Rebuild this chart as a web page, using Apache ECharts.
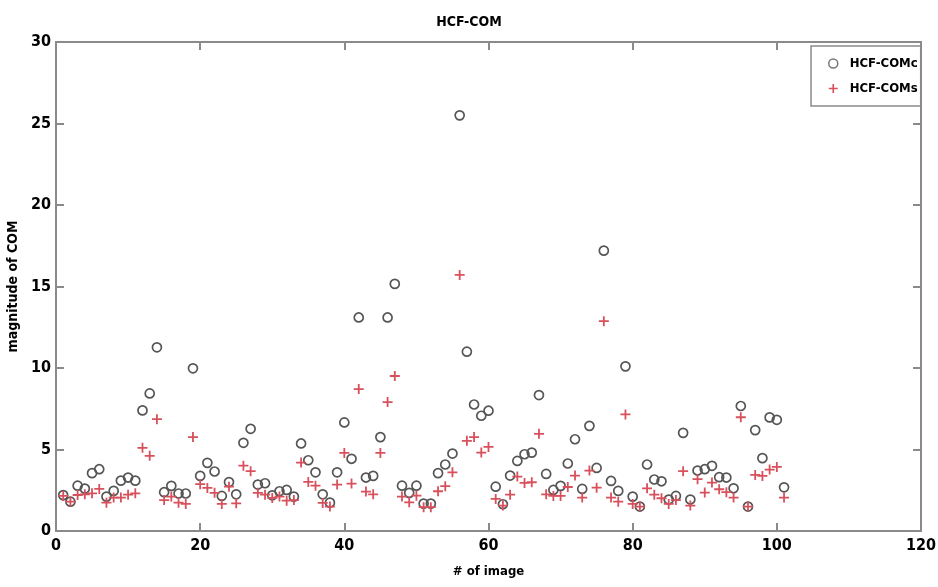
<!DOCTYPE html>
<html>
<head>
<meta charset="utf-8">
<script src="https://cdn.jsdelivr.net/npm/echarts@6/dist/echarts.min.js"></script>
<style>html,body{margin:0;padding:0;background:#fff;}#c{width:938px;height:587px;}</style>
</head>
<body>
<div id="c"></div>
<script>
const imageIndex = [];
for (let i = 1; i <= 101; i++) imageIndex.push(i);
const hcfComC = [2.2,1.8,2.78,2.6,3.55,3.79,2.11,2.46,3.09,3.28,3.09,7.4,8.44,11.27,2.38,2.77,2.3,2.3,9.98,3.38,
  4.18,3.65,2.15,3.0,2.25,5.41,6.27,2.85,2.93,2.19,2.44,2.52,2.11,5.37,4.34,3.6,2.25,1.74,3.6,6.66,
  4.43,13.1,3.28,3.38,5.76,13.1,15.16,2.78,2.34,2.78,1.68,1.68,3.55,4.08,4.75,25.5,11.0,7.76,7.07,7.38,
  2.72,1.64,3.4,4.3,4.71,4.81,8.34,3.5,2.52,2.77,4.14,5.63,2.58,6.45,3.87,17.2,3.07,2.46,10.1,2.11,
  1.5,4.08,3.16,3.05,1.93,2.15,6.02,1.93,3.71,3.79,4.0,3.3,3.28,2.62,7.67,1.5,6.19,4.47,6.97,6.82,2.68];
const hcfComS = [2.15,1.8,2.21,2.25,2.31,2.58,1.74,2.05,2.05,2.23,2.31,5.1,4.61,6.86,1.9,2.11,1.74,1.66,5.76,2.87,
  2.64,2.34,1.66,2.72,1.7,4.01,3.67,2.34,2.23,2.03,2.11,1.86,1.9,4.2,3.01,2.78,1.72,1.5,2.85,4.79,
  2.91,8.71,2.42,2.25,4.79,7.91,9.51,2.11,1.76,2.17,1.46,1.46,2.44,2.75,3.6,15.71,5.53,5.76,4.81,5.16,
  1.97,1.56,2.23,3.34,2.95,2.99,5.96,2.25,2.15,2.15,2.7,3.4,2.05,3.71,2.66,12.87,2.05,1.8,7.15,1.66,
  1.5,2.62,2.23,2.01,1.66,1.9,3.67,1.56,3.18,2.36,2.97,2.56,2.38,2.05,6.98,1.5,3.44,3.38,3.77,3.93,2.05];
const xTicks = [0,20,40,60,80,100,120];
const yTicks = [0,5,10,15,20,25,30];

const FONT = "'DejaVu Sans Condensed','Liberation Sans Narrow',sans-serif";
const AX = '#8a8a8a';
const plusPath = 'path://M4.1,0H5.9V4.1H10V5.9H5.9V10H4.1V5.9H0V4.1H4.1Z';

const chart = echarts.init(document.getElementById('c'), null, {renderer:'canvas'});
const baseX = {
  type:'value', min:xTicks[0], max:xTicks[xTicks.length-1], interval:20,
  axisLine:{show:true, onZero:false, lineStyle:{color:AX, width:2}},
  axisTick:{show:true, inside:true, length:8, lineStyle:{color:AX, width:2}},
  splitLine:{show:false}
};
const baseY = {
  type:'value', min:yTicks[0], max:yTicks[yTicks.length-1], interval:5,
  axisLine:{show:true, onZero:false, lineStyle:{color:AX, width:2}},
  axisTick:{show:true, inside:true, length:8, lineStyle:{color:AX, width:2}},
  splitLine:{show:false}
};
chart.setOption({
  backgroundColor:'#fff',
  animation:false,
  title:{text:'HCF-COM', left:'center', top:10, textStyle:{fontFamily:FONT, fontWeight:'bold', fontSize:14, color:'#000'}},
  grid:{left:56, right:17, top:42, bottom:56, containLabel:false, outerBoundsMode:'none'},
  legend:{
    orient:'vertical', left:811, top:46,
    padding:[11,3,11,17], itemGap:12, itemWidth:9, itemHeight:9,
    borderColor:'#8a8a8a', borderWidth:1.5, backgroundColor:'#fff',
    textStyle:{fontFamily:FONT, fontWeight:'bold', fontSize:13, color:'#000', padding:[0,0,0,7]},
    data:[{name:'HCF-COMc', icon:'circle', itemStyle:{color:'#fff', borderColor:'#777', borderWidth:1.5}},
          {name:'HCF-COMs', icon:plusPath, itemStyle:{color:'#d8505c'}}]
  },
  xAxis:[
    Object.assign({}, baseX, {position:'bottom', name:'# of image', nameLocation:'middle', nameGap:34,
      nameTextStyle:{fontFamily:FONT, fontWeight:'bold', fontSize:13, color:'#000'},
      axisLabel:{show:true, margin:7, fontFamily:FONT, fontWeight:'bold', fontSize:16, color:'#000'}}),
    Object.assign({}, baseX, {position:'top', axisLabel:{show:false}})
  ],
  yAxis:[
    Object.assign({}, baseY, {position:'left', name:'magnitude of COM', nameLocation:'middle', nameGap:28,
      nameTextStyle:{fontFamily:FONT, fontWeight:'bold', fontSize:14, color:'#000'},
      axisLabel:{show:true, margin:5, fontFamily:FONT, fontWeight:'bold', fontSize:16, color:'#000'}}),
    Object.assign({}, baseY, {position:'right', axisLabel:{show:false}})
  ],
  series:[
    {name:'HCF-COMc', type:'scatter', xAxisIndex:0, yAxisIndex:0,
     data:imageIndex.map((x,i)=>[x,hcfComC[i]]),
     symbol:'circle', symbolSize:9,
     itemStyle:{color:'rgba(255,255,255,0)', borderColor:'#555', borderWidth:1.7, opacity:1}, z:2},
    {name:'HCF-COMs', type:'scatter', xAxisIndex:0, yAxisIndex:0,
     data:imageIndex.map((x,i)=>[x,hcfComS[i]]),
     symbol:plusPath, symbolSize:10,
     itemStyle:{color:'#d8505c', opacity:1}, z:3}
  ]
});
</script>
</body>
</html>
